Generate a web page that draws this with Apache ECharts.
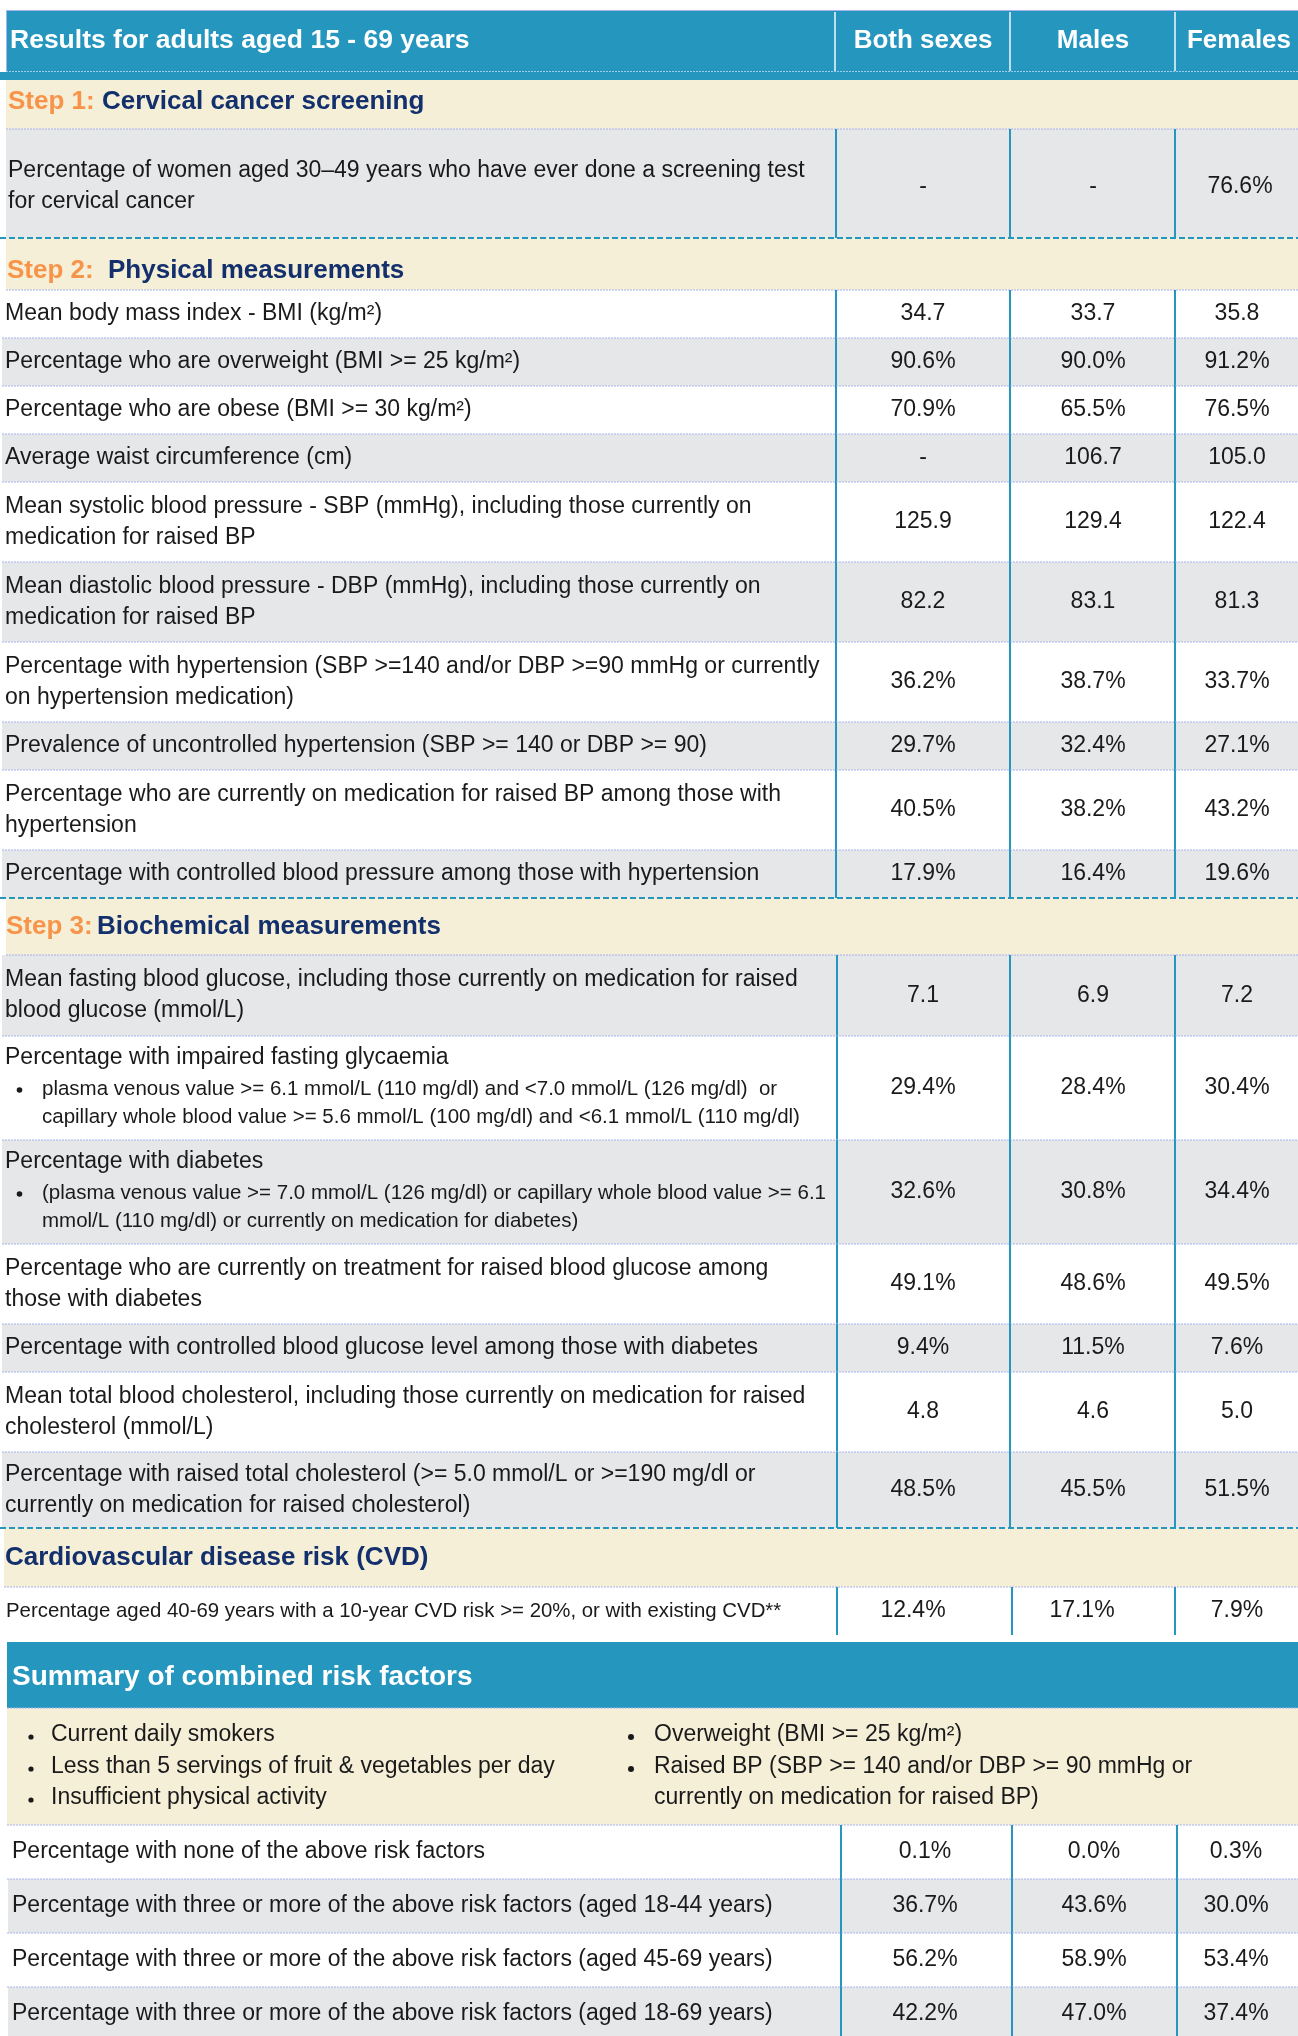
<!DOCTYPE html>
<html><head><meta charset="utf-8">
<script src="https://cdn.jsdelivr.net/npm/echarts@6/dist/echarts.min.js"></script>
<style>html,body{margin:0;padding:0;background:#fff}#c{width:1298px;height:2036px}</style>
</head><body><div id="c"></div>
<script>
// ================= DATA =================
const tableTitle = 'Results for adults aged 15 - 69 years';
const columnNames = ['Both sexes', 'Males', 'Females'];

const sectionSteps = ['Step 1:', 'Step 2:', 'Step 3:', ''];
const sectionNames = ['Cervical cancer screening', 'Physical measurements', 'Biochemical measurements', 'Cardiovascular disease risk (CVD)'];

// Step 1
const step1Labels = ['Percentage of women aged 30\u201349 years who have ever done a screening test\nfor cervical cancer'];
const step1Units = ['%'];
const step1Both = [null];
const step1Males = [null];
const step1Females = [76.6];

// Step 2
const step2Labels = [
  'Mean body mass index - BMI (kg/m\u00b2)',
  'Percentage who are overweight (BMI >= 25 kg/m\u00b2)',
  'Percentage who are obese (BMI >= 30 kg/m\u00b2)',
  'Average waist circumference (cm)',
  'Mean systolic blood pressure - SBP (mmHg), including those currently on\nmedication for raised BP',
  'Mean diastolic blood pressure - DBP (mmHg), including those currently on\nmedication for raised BP',
  'Percentage with hypertension (SBP >=140 and/or DBP >=90 mmHg or currently\non hypertension medication)',
  'Prevalence of uncontrolled hypertension (SBP >= 140 or DBP >= 90)',
  'Percentage who are currently on medication for raised BP among those with\nhypertension',
  'Percentage with controlled blood pressure among those with hypertension'
];
const step2Units = ['', '%', '%', '', '', '', '%', '%', '%', '%'];
const step2Both = [34.7, 90.6, 70.9, null, 125.9, 82.2, 36.2, 29.7, 40.5, 17.9];
const step2Males = [33.7, 90.0, 65.5, 106.7, 129.4, 83.1, 38.7, 32.4, 38.2, 16.4];
const step2Females = [35.8, 91.2, 76.5, 105.0, 122.4, 81.3, 33.7, 27.1, 43.2, 19.6];

// Step 3
const step3Labels = [
  'Mean fasting blood glucose, including those currently on medication for raised\nblood glucose (mmol/L)',
  'Percentage with impaired fasting glycaemia',
  'Percentage with diabetes',
  'Percentage who are currently on treatment for raised blood glucose among\nthose with diabetes',
  'Percentage with controlled blood glucose level among those with diabetes',
  'Mean total blood cholesterol, including those currently on medication for raised\ncholesterol (mmol/L)',
  'Percentage with raised total cholesterol (>= 5.0 mmol/L or >=190 mg/dl or\ncurrently on medication for raised cholesterol)'
];
const step3Notes = [
  [],
  ['plasma venous value >= 6.1 mmol/L (110 mg/dl) and <7.0 mmol/L (126 mg/dl)  or',
   'capillary whole blood value >= 5.6 mmol/L (100 mg/dl) and <6.1 mmol/L (110 mg/dl)'],
  ['(plasma venous value >= 7.0 mmol/L (126 mg/dl) or capillary whole blood value >= 6.1',
   'mmol/L (110 mg/dl) or currently on medication for diabetes)'],
  [], [], [], []
];
const step3Units = ['', '%', '%', '%', '%', '', '%'];
const step3Both = [7.1, 29.4, 32.6, 49.1, 9.4, 4.8, 48.5];
const step3Males = [6.9, 28.4, 30.8, 48.6, 11.5, 4.6, 45.5];
const step3Females = [7.2, 30.4, 34.4, 49.5, 7.6, 5.0, 51.5];

// CVD
const cvdLabels = ['Percentage aged 40-69 years with a 10-year CVD risk >= 20%, or with existing CVD**'];
const cvdUnits = ['%'];
const cvdBoth = [12.4];
const cvdMales = [17.1];
const cvdFemales = [7.9];

// Summary of combined risk factors
const summaryTitle = 'Summary of combined risk factors';
const riskFactorsLeft = ['Current daily smokers', 'Less than 5 servings of fruit & vegetables per day', 'Insufficient physical activity'];
const riskFactorsRight = ['Overweight (BMI >= 25 kg/m\u00b2)', 'Raised BP (SBP >= 140 and/or DBP >= 90 mmHg or\ncurrently on medication for raised BP)'];
const summaryLabels = [
  'Percentage with none of the above risk factors',
  'Percentage with three or more of the above risk factors (aged 18-44 years)',
  'Percentage with three or more of the above risk factors (aged 45-69 years)',
  'Percentage with three or more of the above risk factors (aged 18-69 years)'
];
const summaryBoth = [0.1, 36.7, 56.2, 42.2];
const summaryMales = [0.0, 43.6, 58.9, 47.0];
const summaryFemales = [0.3, 30.0, 53.4, 37.4];

// ================= LAYOUT / STYLE =================
const W = 1298, H = 2036;
const FONT = '"Liberation Sans", Arial, Helvetica, sans-serif';
const C = {
  blue: '#2596be', beige: '#f5efd8', gray: '#e6e7e9', orange: '#f7944a', navy: '#13306d',
  dot: '#a6b3ef', text: '#1a1a1a', headSep: 'rgba(255,255,255,0.7)'
};
const L = {
  headerTop: 10, headerBottom: 72, headerBandBottom: 80,
  headerCenters: [923, 1093, 1239], headerSep: [835, 1010, 1175],
  bandH: [49, 52, 57, 59], bandX: [6, 6, 6, 4], titleDy: [-3, 7, 0, 0],
  stepX: [8, 7, 6, 5], nameX: [102, 108, 97, 5],
  rowH: [[109], [48, 48, 48, 48, 80, 80, 80, 48, 80, 48], [81, 104, 104, 80, 48, 80, 76], [48]],
  rowDy: [3, 0, 0, 0],
  rowX: [6, 2, 2, 4], labelX: [8, 5, 5, 6], labelSize: [23, 23, 23, 20.4],
  shadeStart: [1, 0, 1, 0],
  sep: [[836, 1010, 1175], [836, 1010, 1175], [837, 1010, 1175], [837, 1012, 1175]],
  valX: [[923, 1093, 1240], [923, 1093, 1237], [923, 1093, 1237], [913, 1082, 1237]],
  lineGap: 31,
  noteSize: 20.5, noteBulletX: 17, noteX: 42, noteTop: 53, noteGap: 28,
  gapBeforeSummary: 7, sumHeaderH: 66, sumTitleDy: 2, riskH: 117, sumRowH: [54, 54, 54, 54],
  sumX: 7, sumLabelX: 12, sumSep: [841, 1012, 1177], sumValX: [925, 1094, 1236],
  riskLeftX: [29, 51], riskRightX: [628, 654], riskLineY: [27, 59, 90]
};

const sections = [
  { labels: step1Labels, units: step1Units, vals: [step1Both, step1Males, step1Females], notes: [] },
  { labels: step2Labels, units: step2Units, vals: [step2Both, step2Males, step2Females], notes: [] },
  { labels: step3Labels, units: step3Units, vals: [step3Both, step3Males, step3Females], notes: step3Notes },
  { labels: cvdLabels, units: cvdUnits, vals: [cvdBoth, cvdMales, cvdFemales], notes: [] }
];

function fmt(v, unit) { return v == null ? '-' : v.toFixed(1) + unit; }

// Build layout items
const items = [];
items.push({ kind: 'header', y0: L.headerTop, y1: L.headerBottom, y2: L.headerBandBottom });
let yy = L.headerBandBottom;
sections.forEach((sec, s) => {
  items.push({ kind: 'band', s, y0: yy, y1: yy + L.bandH[s] });
  yy += L.bandH[s];
  sec.labels.forEach((lab, r) => {
    const h = L.rowH[s][r];
    items.push({ kind: 'row', s, r, y0: yy, y1: yy + h, last: r === sec.labels.length - 1 });
    yy += h;
  });
});
yy += L.gapBeforeSummary;
items.push({ kind: 'sumHeader', y0: yy, y1: yy + L.sumHeaderH }); yy += L.sumHeaderH;
items.push({ kind: 'risk', y0: yy, y1: yy + L.riskH }); yy += L.riskH;
summaryLabels.forEach((lab, r) => {
  const h = L.sumRowH[r];
  items.push({ kind: 'sumRow', r, y0: yy, y1: yy + h });
  yy += h;
});

// ================= RENDER =================
function mk(api) {
  const P = (x, y) => api.coord([x, y]);
  return {
    rect(x0, y0, x1, y1, fill) {
      const a = P(x0, y0), b = P(x1, y1);
      return { type: 'rect', shape: { x: a[0], y: a[1], width: b[0] - a[0], height: b[1] - a[1] }, style: { fill } };
    },
    line(x0, y0, x1, y1, stroke, w, dash) {
      const a = P(x0, y0), b = P(x1, y1);
      return { type: 'line', shape: { x1: a[0], y1: a[1], x2: b[0], y2: b[1] }, style: { stroke, lineWidth: w, lineDash: dash || null } };
    },
    dot(x, y, r) {
      const a = P(x, y);
      return { type: 'circle', shape: { cx: a[0], cy: a[1], r }, style: { fill: C.text } };
    },
    text(x, y, t, o) {
      const a = P(x, y);
      return { type: 'text', x: a[0], y: a[1], style: Object.assign({ text: t, fontFamily: FONT, fontSize: 23, fill: C.text, align: 'left', verticalAlign: 'middle' }, o || {}) };
    }
  };
}

function renderBg(params, api) {
  const it = items[params.dataIndex];
  const g = mk(api);
  const ch = [];
  if (it.kind === 'header') {
    ch.push(g.rect(6, it.y0, W, it.y1, C.blue));
    ch.push(g.rect(0, it.y1, W, it.y2, C.blue));
  } else if (it.kind === 'band') {
    ch.push(g.rect(L.bandX[it.s], it.y0, W, it.y1, C.beige));
  } else if (it.kind === 'row') {
    const shaded = (it.r + L.shadeStart[it.s]) % 2 === 1;
    ch.push(g.rect(L.rowX[it.s], it.y0, W, it.y1, shaded ? C.gray : '#ffffff'));
  } else if (it.kind === 'sumHeader') {
    ch.push(g.rect(L.sumX, it.y0, W, it.y1, C.blue));
  } else if (it.kind === 'risk') {
    ch.push(g.rect(L.sumX, it.y0, W, it.y1, C.beige));
  } else if (it.kind === 'sumRow') {
    ch.push(g.rect(L.sumX + 1, it.y0, W, it.y1, it.r % 2 === 1 ? C.gray : '#ffffff'));
  }
  return { type: 'group', children: ch };
}

function renderFg(params, api) {
  const it = items[params.dataIndex];
  const g = mk(api);
  const ch = [];
  if (it.kind === 'header') {
    ch.push(g.line(6, it.y0 + 0.5, W, it.y0 + 0.5, C.dot, 1));
    ch.push(g.line(6.5, it.y0, 6.5, it.y1, C.dot, 1));
    ch.push(g.line(6, it.y1 - 0.5, W, it.y1 - 0.5, '#9fc9e8', 1, [2, 1]));
    L.headerSep.forEach(x => ch.push(g.line(x, it.y0 + 2, x, it.y1 - 1, C.headSep, 2)));
    ch.push(g.text(10, 41, tableTitle, { fill: '#fff', fontWeight: 'bold', fontSize: 26.5 }));
    columnNames.forEach((n, i) => ch.push(g.text(L.headerCenters[i], 41, n, { fill: '#fff', fontWeight: 'bold', fontSize: 26, align: 'center' })));
  } else if (it.kind === 'band') {
    const cy = (it.y0 + it.y1) / 2 + L.titleDy[it.s];
    const s = it.s;
    if (sectionSteps[s]) ch.push(g.text(L.stepX[s], cy, sectionSteps[s], { fill: C.orange, fontWeight: 'bold', fontSize: 26 }));
    ch.push(g.text(L.nameX[s], cy, sectionNames[s], { fill: C.navy, fontWeight: 'bold', fontSize: 26 }));
    ch.push(g.line(L.bandX[s], it.y1, W, it.y1, C.dot, 1, [2, 1]));
  } else if (it.kind === 'row') {
    const s = it.s, r = it.r, sec = sections[s];
    const x0 = L.rowX[s];
    L.sep[s].forEach(x => ch.push(g.line(x, it.y0, x, it.y1, C.blue, 2)));
    if (it.last && s < 3) ch.push(g.line(0, it.y1, W, it.y1, C.blue, 2, [6, 3]));
    else if (!it.last) ch.push(g.line(x0, it.y1, W, it.y1, C.dot, 1, [2, 1]));
    const notes = (sec.notes[r] || []);
    const fs = L.labelSize[s];
    const cy = (it.y0 + it.y1) / 2 + L.rowDy[s];
    if (notes.length) {
      ch.push(g.text(L.labelX[s], it.y0 + 22, sec.labels[r], { fontSize: fs }));
      notes.forEach((n, k) => {
        const ny = it.y0 + L.noteTop + k * L.noteGap;
        if (k === 0) ch.push(g.dot(L.noteBulletX + 2.5, ny + 1, 2.8));
        ch.push(g.text(L.noteX, ny, n, { fontSize: L.noteSize }));
      });
    } else {
      const lines = sec.labels[r].split('\n');
      lines.forEach((ln, k) => {
        const ly = cy + (k - (lines.length - 1) / 2) * L.lineGap;
        ch.push(g.text(L.labelX[s], ly, ln, { fontSize: fs }));
      });
    }
    sec.vals.forEach((arr, c) => {
      ch.push(g.text(L.valX[s][c], cy, fmt(arr[r], sec.units[r]), { align: 'center', fontSize: 23 }));
    });
  } else if (it.kind === 'sumHeader') {
    ch.push(g.text(L.sumLabelX, (it.y0 + it.y1) / 2 + L.sumTitleDy, summaryTitle, { fill: '#fff', fontWeight: 'bold', fontSize: 28 }));
    ch.push(g.line(L.sumX, it.y1, W, it.y1, C.dot, 1, [2, 1]));
  } else if (it.kind === 'risk') {
    riskFactorsLeft.forEach((t, k) => {
      const ly = it.y0 + L.riskLineY[k];
      ch.push(g.dot(L.riskLeftX[0] + 2, ly + 2, 2.6));
      ch.push(g.text(L.riskLeftX[1], ly, t, { fontSize: 23 }));
    });
    let k = 0;
    riskFactorsRight.forEach(t => {
      const lines = t.split('\n');
      ch.push(g.dot(L.riskRightX[0] + 3, it.y0 + L.riskLineY[k] + 2, 3));
      lines.forEach(ln => {
        ch.push(g.text(L.riskRightX[1], it.y0 + L.riskLineY[k], ln, { fontSize: 23 }));
        k++;
      });
    });
    ch.push(g.line(L.sumX, it.y1, W, it.y1, C.dot, 1, [2, 1]));
  } else if (it.kind === 'sumRow') {
    const cy = (it.y0 + it.y1) / 2;
    L.sumSep.forEach(x => ch.push(g.line(x, it.y0, x, it.y1, C.blue, 2)));
    if (it.r < summaryLabels.length - 1) ch.push(g.line(L.sumX, it.y1, W, it.y1, C.dot, 1, [2, 1]));
    ch.push(g.text(L.sumLabelX, cy, summaryLabels[it.r], { fontSize: 23 }));
    [summaryBoth, summaryMales, summaryFemales].forEach((arr, c) => {
      ch.push(g.text(L.sumValX[c], cy, fmt(arr[it.r], '%'), { align: 'center', fontSize: 23 }));
    });
  }
  return { type: 'group', children: ch };
}

const chart = echarts.init(document.getElementById('c'), null, { renderer: 'canvas', width: W, height: H });
const seriesData = items.map((it, i) => [i, it.y0]);
chart.setOption({
  animation: false,
  backgroundColor: '#ffffff',
  grid: { left: 0, right: 0, top: 0, bottom: 0 },
  xAxis: { type: 'value', min: 0, max: W, show: false },
  yAxis: { type: 'value', min: 0, max: H, inverse: true, show: false },
  series: [
    { type: 'custom', name: 'cells', renderItem: renderBg, data: seriesData, clip: false, z: 1, silent: true },
    { type: 'custom', name: 'content', renderItem: renderFg, data: seriesData, clip: false, z: 2, silent: true }
  ]
});
</script>
</body></html>
